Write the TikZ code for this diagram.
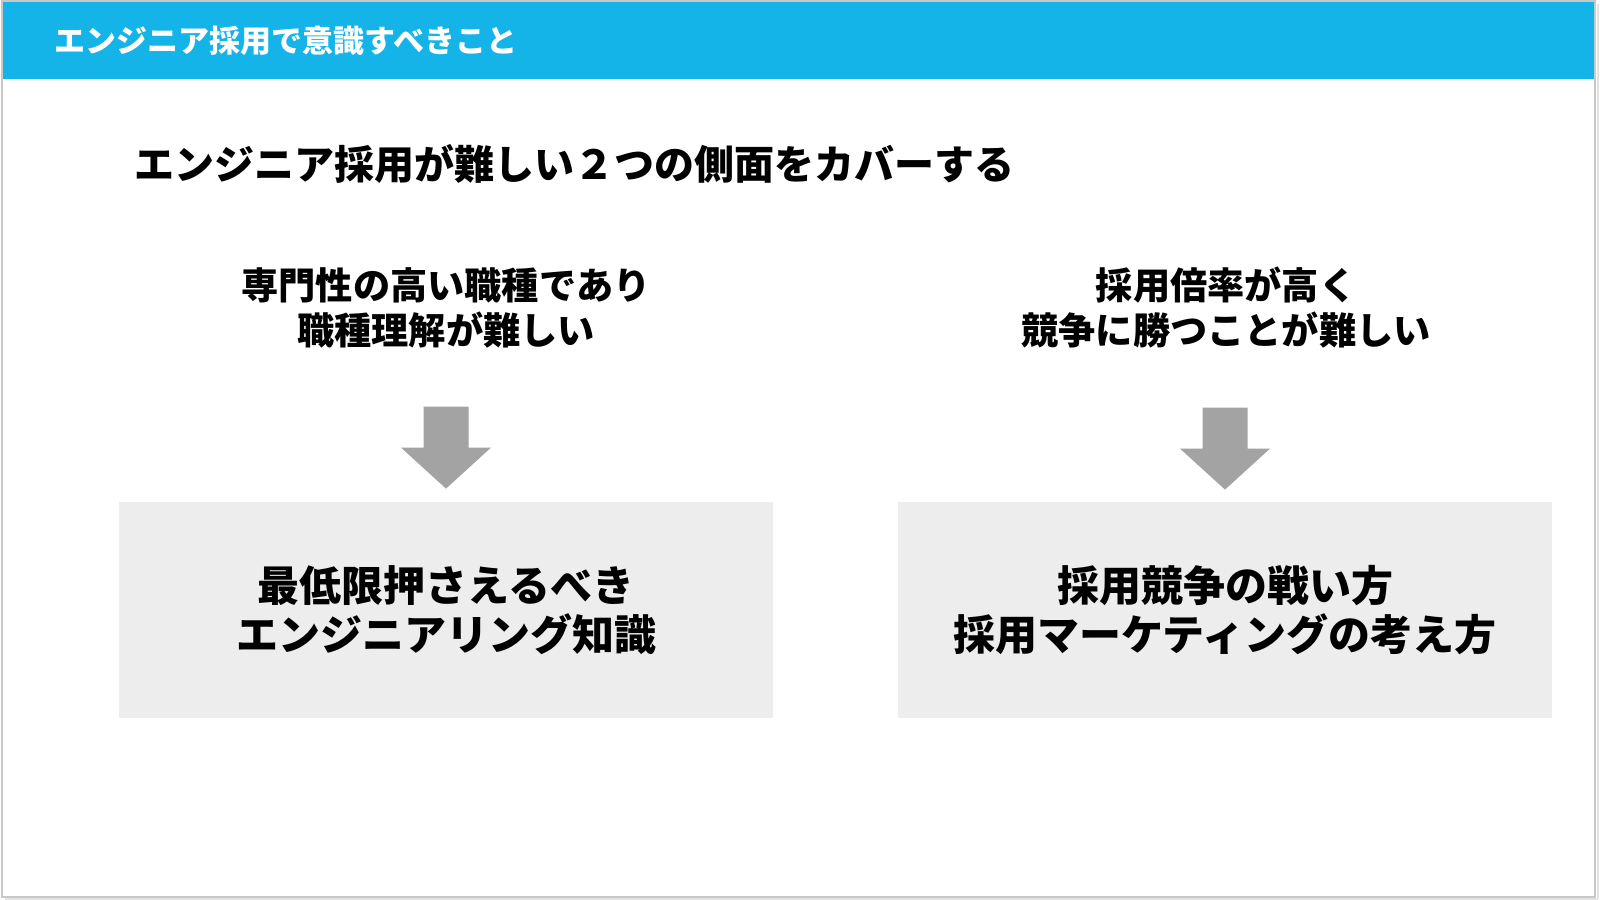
\documentclass[tikz,border=0pt]{standalone}
\usepackage{fontspec}
\setmainfont{Noto Sans CJK JP}
\usetikzlibrary{positioning}

\definecolor{headblue}{HTML}{14B3E8}
\definecolor{boxgray}{HTML}{EDEDED}
\definecolor{arrowgray}{HTML}{A3A3A3}
\definecolor{framegray}{HTML}{C8C8C8}

\tikzset{
  headtext/.style={inner sep=0pt, anchor=west, text=white, font=\fontsize{15.5pt}{18pt}\selectfont\bfseries},
  subtext/.style={inner sep=0pt, anchor=west, font=\fontsize{20pt}{24pt}\selectfont\bfseries},
  probtext/.style={inner sep=0pt, align=center, font=\fontsize{18.6pt}{22.5pt}\selectfont\bfseries},
  answerbox/.style={fill=boxgray, inner sep=0pt, minimum width=327pt, minimum height=108pt, align=center,
    font=\fontsize{21pt}{24.5pt}\selectfont\bfseries},
}

\begin{document}
\begin{tikzpicture}[x=0.5pt, y=-0.5pt]
			\useasboundingbox (0,0) rectangle (1600,899);
			\fill[white] (0,0) rectangle (1600,899);
			% header bar
			\fill[headblue] (2,1) rectangle (1595,79);
			\node[headtext] (title) at (54,41) {エンジニア採用で意識すべきこと};
			\node[subtext] (sub) at (134,164) {エンジニア採用が難しい２つの側面をカバーする};
			% two sides
			\node[probtext] (probL) at (446,307.5) {専門性の高い職種であり\\職種理解が難しい};
			\node[probtext] (probR) at (1226,307.5) {採用倍率が高く\\競争に勝つことが難しい};
			\node[answerbox] (boxL) at (446,610) {最低限押さえるべき\\エンジニアリング知識};
			\node[answerbox] (boxR) at (1225,610) {採用競争の戦い方\\採用マーケティングの考え方};
			\fill[arrowgray] (boxL.north) ++(0,-13) -- ++(-45,-41) -- ++(22.5,0) -- ++(0,-41) -- ++(45,0) -- ++(0,41) -- ++(22.5,0) -- cycle;
			\fill[arrowgray] (boxR.north) ++(0,-12) -- ++(-45,-41) -- ++(22.5,0) -- ++(0,-41) -- ++(45,0) -- ++(0,41) -- ++(22.5,0) -- cycle;
			% slide frame
			\draw[framegray, line width=1pt] (2,1) rectangle (1595,897);
			\draw[framegray!50, line width=1pt] (1598,4) -- (1598,899);
			\draw[framegray!50, line width=1pt] (5,899) -- (1598,899);
\end{tikzpicture}
\end{document}
